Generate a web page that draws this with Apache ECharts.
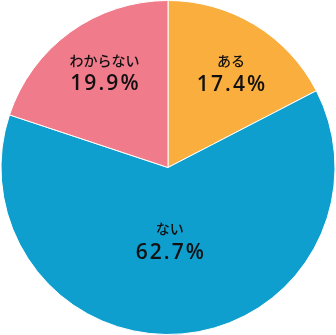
<!DOCTYPE html>
<html><head><meta charset="utf-8">
<script src="https://cdn.jsdelivr.net/npm/echarts@6/dist/echarts.min.js"></script>
<style>html,body{margin:0;padding:0;background:#fff}#c{width:336px;height:335px}</style>
</head><body><div id="c"></div>
<script>
const categories = ['ある', 'ない', 'わからない'];
const values = [17.4, 62.7, 19.9];
const colors = ['#F9AE3D', '#0E9FCF', '#EF7B8B'];
const labelOffsets = [[18, -21], [-5, -13], [-13, -25]];

const chart = echarts.init(document.getElementById('c'), null, {renderer: 'canvas'});
chart.setOption({
  animation: false,
  series: [{
    type: 'pie',
    center: ['50%', '50%'],
    radius: [0, 167],
    startAngle: 90,
    clockwise: true,
    data: categories.map((n, i) => ({
      name: n, value: values[i],
      itemStyle: {color: colors[i]},
      label: {offset: labelOffsets[i]}
    })),
    itemStyle: {borderColor: '#fff', borderWidth: 1},
    label: {
      show: true,
      position: 'inside',
      formatter: p => '{n|' + p.name + '}\n{v|' + p.value.toFixed(1).split('').join('\u200A') + '\u200A%}',
      rich: {
        n: {fontFamily: 'Noto Sans CJK JP', fontWeight: 500, fontSize: 14, color: '#111', lineHeight: 24, align: 'center'},
        v: {fontFamily: 'Open Sans', fontWeight: 600, fontSize: 21, color: '#111', lineHeight: 24, align: 'center'}
      }
    },
    labelLine: {show: false},
    emphasis: {disabled: true}
  }]
});
</script></body></html>
